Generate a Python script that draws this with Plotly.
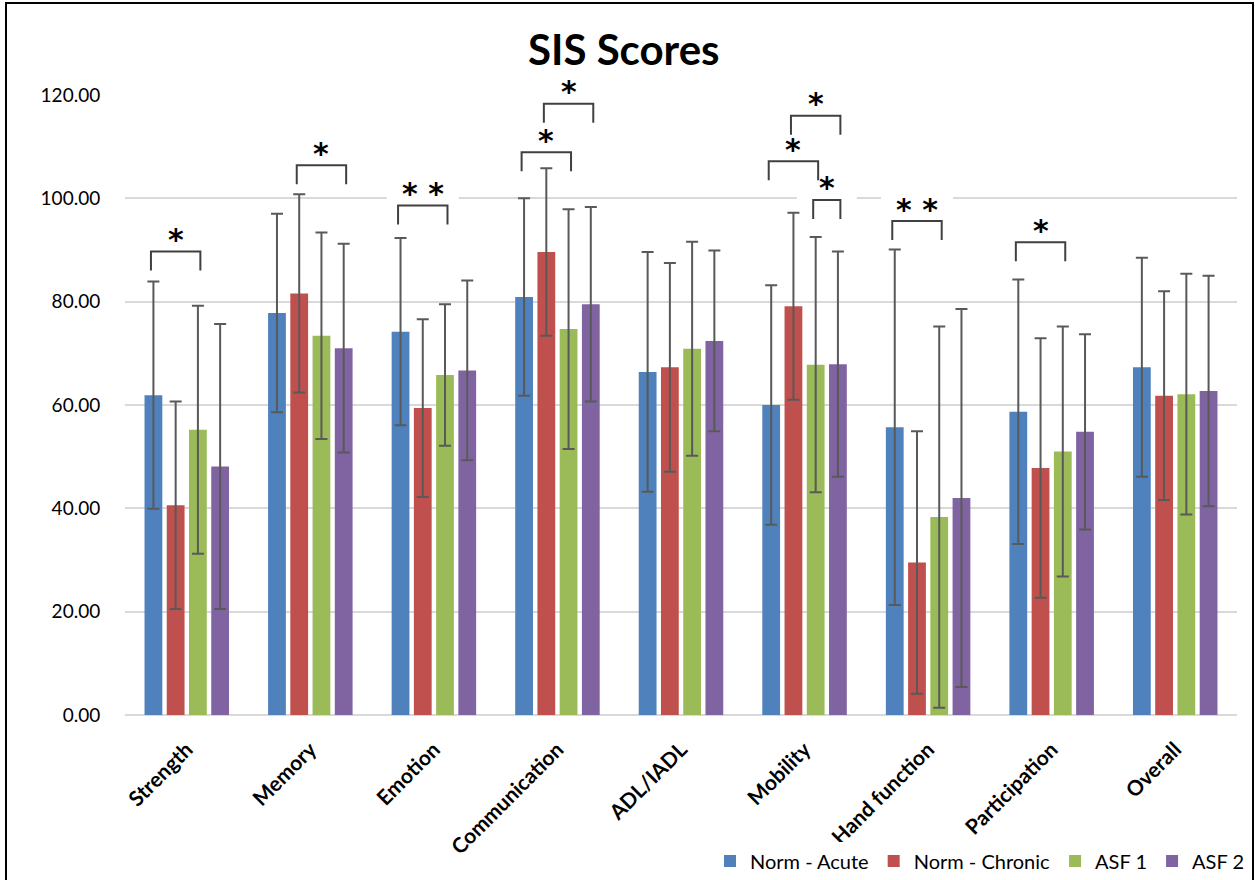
import plotly.graph_objects as go

# ---- data ----
categories = ["Strength", "Memory", "Emotion", "Communication", "ADL/IADL",
              "Mobility", "Hand function", "Participation", "Overall"]

series_names = ["Norm - Acute", "Norm - Chronic", "ASF 1", "ASF 2"]
series_colors = ["#4F81BD", "#C0504D", "#9BBB59", "#8064A2"]

norm_acute = [61.9, 77.8, 74.2, 80.9, 66.4, 60.0, 55.7, 58.7, 67.3]
norm_acute_sd = [22.0, 19.2, 18.1, 19.1, 23.2, 23.2, 34.4, 25.6, 21.2]
norm_chronic = [40.6, 81.6, 59.4, 89.6, 67.3, 79.1, 29.5, 47.8, 61.8]
norm_chronic_sd = [20.1, 19.2, 17.2, 16.2, 20.2, 18.1, 25.4, 25.1, 20.2]
asf1 = [55.2, 73.4, 65.8, 74.7, 70.9, 67.8, 38.3, 51.0, 62.1]
asf1_sd = [24.0, 20.0, 13.7, 23.2, 20.7, 24.7, 36.9, 24.2, 23.3]
asf2 = [48.1, 71.0, 66.7, 79.5, 72.4, 67.9, 42.0, 54.8, 62.7]
asf2_sd = [27.6, 20.2, 17.4, 18.8, 17.5, 21.8, 36.6, 18.9, 22.3]

means = [norm_acute, norm_chronic, asf1, asf2]
sds = [norm_acute_sd, norm_chronic_sd, asf1_sd, asf2_sd]

# significance brackets: (category, first series, second series, bracket top, label)
sig_category = [0, 1, 2, 3, 3, 5, 5, 5, 6, 7]
sig_from = [0, 1, 0, 0, 1, 0, 1, 2, 0, 0]
sig_to = [2, 3, 2, 2, 3, 2, 3, 3, 2, 2]
sig_top = [89.7, 106.4, 98.6, 108.9, 118.3, 107.2, 116.0, 99.7, 95.6, 91.5]
sig_label = ["*", "*", "* *", "*", "*", "*", "*", "*", "* *", "*"]

# ---- geometry ----
W, H = 1255, 880
M_L, M_R, M_T, M_B = 125, 18, 95, 165
BARGAP = 0.28
N_SERIES = len(series_names)
slot = (1 - BARGAP) / N_SERIES
offsets = [(s - (N_SERIES - 1) / 2) * slot for s in range(N_SERIES)]
Y_MAX = 120
plot_h = H - M_T - M_B
units_per_px = Y_MAX / plot_h

x_idx = list(range(len(categories)))

fig = go.Figure()
for name, color, m, sd in zip(series_names, series_colors, means, sds):
    fig.add_trace(go.Bar(
        x=x_idx, y=m, name=name,
        marker=dict(color=color, line=dict(width=0)),
        error_y=dict(type="data", array=sd, visible=True,
                     color="#595959", thickness=2, width=6),
    ))

shapes = []
annotations = []
LEG = 19 * units_per_px   # bracket leg length
PAD = 0.02
for c, a, b, top, lab in zip(sig_category, sig_from, sig_to, sig_top, sig_label):
    x0 = c + offsets[a] - PAD
    x1 = c + offsets[b] + PAD
    xm = (x0 + x1) / 2
    # white text box behind the label hides the gridlines
    half_w = (36 if len(lab) > 1 else 30) / (W - M_L - M_R) * len(categories)
    shapes.append(dict(type="rect", xref="x", yref="y", layer="between",
                       x0=xm - half_w, x1=xm + half_w,
                       y0=top + 1 * units_per_px, y1=top + 29 * units_per_px,
                       fillcolor="white", line=dict(width=0)))
    shapes.append(dict(type="path", xref="x", yref="y", layer="above",
                       path=f"M {x0},{top - LEG} L {x0},{top} L {x1},{top} L {x1},{top - LEG}",
                       line=dict(color="#404040", width=2)))
    # label placed in paper units so it can sit above the axis range
    annotations.append(dict(x=xm, y=(top + 16 * units_per_px) / Y_MAX,
                            xref="x", yref="paper",
                            text=lab, showarrow=False, yanchor="middle",
                            yshift=-4,
                            font=dict(family="DejaVu Sans", size=30, color="black",
                                      weight="bold")))

# outer chart frame
px2x = lambda px: (px - M_L) / (W - M_L - M_R)
px2y = lambda py: (H - M_B - py) / plot_h
shapes.append(dict(type="rect", xref="paper", yref="paper", layer="above",
                   x0=px2x(6), x1=px2x(1253), y0=px2y(890), y1=px2y(3),
                   line=dict(color="black", width=2), fillcolor="rgba(0,0,0,0)"))

fig.update_layout(
    width=W, height=H,
    margin=dict(l=M_L, r=M_R, t=M_T, b=M_B, autoexpand=False),
    paper_bgcolor="white", plot_bgcolor="white",
    barmode="group", bargap=BARGAP, bargroupgap=0.2,
    font=dict(family="Lato", color="black"),
    title=dict(text="<b>SIS Scores</b>", x=0.497, xref="container",
               y=1 - 50 / H, yref="container", yanchor="middle", xanchor="center",
               font=dict(family="Lato", size=42, color="black")),
    xaxis=dict(tickvals=x_idx, ticktext=[f"<b>{c}</b>" for c in categories],
               range=[-0.5, len(categories) - 0.5], tickangle=-45,
               showgrid=False, showline=False, zeroline=False, automargin=False,
               ticks="outside", ticklen=13, tickcolor="rgba(0,0,0,0)",
               tickfont=dict(size=21, color="black")),
    yaxis=dict(range=[0, Y_MAX], dtick=20, tickformat=".2f", automargin=False,
               showgrid=True, gridcolor="#D9D9D9", gridwidth=2,
               zeroline=True, zerolinecolor="#D9D9D9", zerolinewidth=2,
               showline=False, ticks="outside", ticklen=20,
               tickcolor="rgba(0,0,0,0)",
               tickfont=dict(size=19, color="black")),
    legend=dict(orientation="h", xref="container", yref="container",
                x=1250 / W, xanchor="right", y=1 - 861 / H, yanchor="middle",
                font=dict(size=20, color="black"),
                itemwidth=30, traceorder="normal"),
    shapes=shapes, annotations=annotations,
)

fig.write_html("out.html")
